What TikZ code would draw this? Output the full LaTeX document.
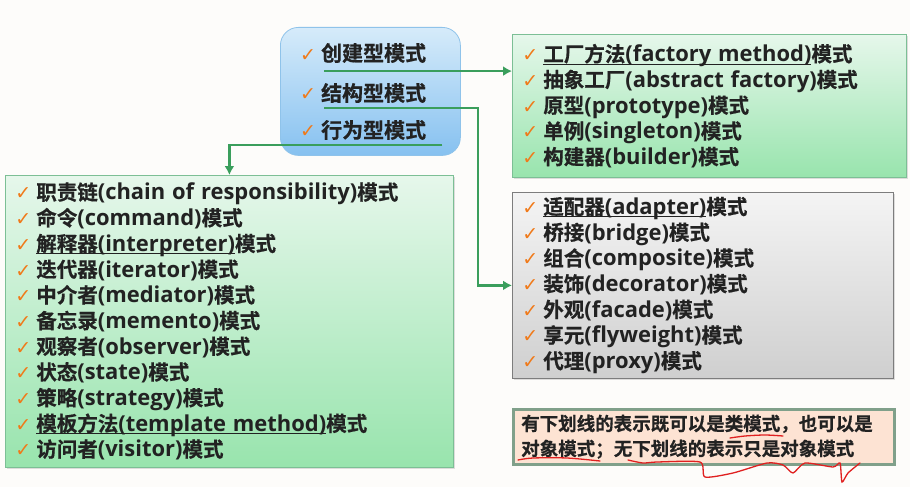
\documentclass[tikz,border=0pt]{standalone}
\usepackage{fontspec}
\setmainfont{Noto Sans CJK SC Bold}[FakeBold=0.6]
\newfontfamily\latfont{Open Sans}[Scale=1.07]
\newfontfamily\symfont{DejaVu Sans}
\usetikzlibrary{arrows.meta}
\usetikzlibrary{shadows}

\definecolor{flowgreen}{HTML}{3A9E5C}
\definecolor{chkorange}{HTML}{F07A1A}
\definecolor{textdark}{HTML}{222222}
\definecolor{pagebg}{HTML}{FDFCFA}
\definecolor{kindtop}{HTML}{D6EBFA}
\definecolor{kindbot}{HTML}{86C1F0}
\definecolor{kindline}{HTML}{8FC3EA}
\definecolor{greentop}{HTML}{E6F7EB}
\definecolor{greenbot}{HTML}{98E4AD}
\definecolor{greenline}{HTML}{7CBF95}
\definecolor{graytop}{HTML}{F4F4F4}
\definecolor{graybot}{HTML}{CFCFCF}
\definecolor{grayline}{HTML}{7D7D7D}
\definecolor{notefill}{HTML}{FDE3D3}
\definecolor{noteline}{HTML}{80A08A}
\definecolor{redpen}{HTML}{E02020}

% check mark, latin part and underline used in the lists
\newcommand\chk{{\symfont\fontsize{19}{19}\selectfont\color{chkorange}✓}\hspace{5pt}}
\newcommand\lat[1]{{\latfont\bfseries #1}}
\newcommand\undl[1]{\setbox0=\hbox{#1}\rlap{\rule[-2.8pt]{\wd0}{0.9pt}}\box0}

\tikzset{
  listfont/.style={font=\fontsize{20.5}{25.7}\selectfont, text=textdark},
  kindbox/.style={draw=kindline, thick, rounded corners=18pt, top color=kindtop, bottom color=kindbot},
  greenlist/.style={listfont, draw=greenline, thick, top color=greentop, bottom color=greenbot,
    drop shadow={opacity=0.25, shadow xshift=2pt, shadow yshift=-2pt},
    align=left, inner xsep=10pt, inner ysep=0pt, anchor=north west},
  graylist/.style={greenlist, draw=grayline, top color=graytop, bottom color=graybot},
  notebox/.style={draw=noteline, line width=2.5pt, fill=notefill, align=left,
    font=\fontsize{18.5}{25}\selectfont, text=textdark, inner xsep=8pt, anchor=north west},
  flow/.style={draw=flowgreen, line width=2.5pt, -{Latex[length=9pt,width=10pt]}},
  pen/.style={draw=redpen, line width=1.3pt, line cap=round}
}

\begin{document}
\begin{tikzpicture}[x=1pt, y=-1pt]

  % === sfondo ===
  \fill[pagebg] (0,0) rectangle (910,487);
  \useasboundingbox (0,0) rectangle (910,487);

  % === box delle tre categorie ===
  \node[kindbox, minimum width=180pt, minimum height=128pt, anchor=north west] (kinds) at (280,27) {};
  \node[listfont, anchor=west, inner sep=0pt, font=\fontsize{21}{24}\selectfont] (cre) at (300,53) {\chk 创建型模式};
  \node[listfont, anchor=west, inner sep=0pt, font=\fontsize{21}{24}\selectfont] (str) at (300,93) {\chk 结构型模式};
  \node[listfont, anchor=west, inner sep=0pt, font=\fontsize{21}{24}\selectfont] (beh) at (300,130) {\chk 行为型模式};

  % === creazionali ===
  \node[greenlist, text width=374pt, minimum height=143pt] (creBox) at (512,34) {%
    \chk\undl{工厂方法\lat{(factory method)}}模式\\
    \chk 抽象工厂\lat{(abstract factory)}模式\\
    \chk 原型\lat{(prototype)}模式\\
    \chk 单例\lat{(singleton)}模式\\
    \chk 构建器\lat{(builder)}模式};

  % === strutturali ===
  \node[graylist, text width=361pt, minimum height=186pt] (strBox) at (512,192) {%
    \chk\undl{适配器\lat{(adapter)}}模式\\
    \chk 桥接\lat{(bridge)}模式\\
    \chk 组合\lat{(composite)}模式\\
    \chk 装饰\lat{(decorator)}模式\\
    \chk 外观\lat{(facade)}模式\\
    \chk 享元\lat{(flyweight)}模式\\
    \chk 代理\lat{(proxy)}模式};

  % === comportamentali ===
  \node[greenlist, text width=428pt, minimum height=292pt] (behBox) at (5,175) {%
    \chk 职责链\lat{(chain of responsibility)}模式\\
    \chk 命令\lat{(command)}模式\\
    \chk\undl{解释器\lat{(interpreter)}}模式\\
    \chk 迭代器\lat{(iterator)}模式\\
    \chk 中介者\lat{(mediator)}模式\\
    \chk 备忘录\lat{(memento)}模式\\
    \chk 观察者\lat{(observer)}模式\\
    \chk 状态\lat{(state)}模式\\
    \chk 策略\lat{(strategy)}模式\\
    \chk\undl{模板方法\lat{(template method)}}模式\\
    \chk 访问者\lat{(visitor)}模式};

  % === nota ===
  \node[notebox, text width=365pt, minimum height=55pt] (note) at (512,408) {%
    有下划线的表示既可以是类模式，也可以是\\
    对象模式；无下划线的表示只是对象模式};

  % === frecce ===
  \draw[flow] ([xshift=24pt, yshift=-8pt]cre.south west) -- ([yshift=-8pt]cre.south west -| creBox.west);
  \draw[flow] ([xshift=24pt, yshift=-5pt]str.south west) -| ([xshift=-34pt]strBox.west) -- (strBox.west);
  \draw[flow] ([xshift=16pt, yshift=-5pt]beh.south east) -| (behBox.north);

  % === segni a mano rossi ===
  \draw[pen] plot[smooth] coordinates {(730,438) (745,436) (765,435) (783,436)};
  \draw[pen] plot[smooth] coordinates {(518,460) (533,458) (567,458) (600,461)};
  \draw[pen] plot[smooth, tension=0.4] coordinates {(628,460) (643,463) (657,462) (700,462) (705,477)
    (733,473) (767,463) (783,465) (793,473) (805,463) (833,467) (840,463) (842,482) (848,473) (860,463)};

\end{tikzpicture}
\end{document}
